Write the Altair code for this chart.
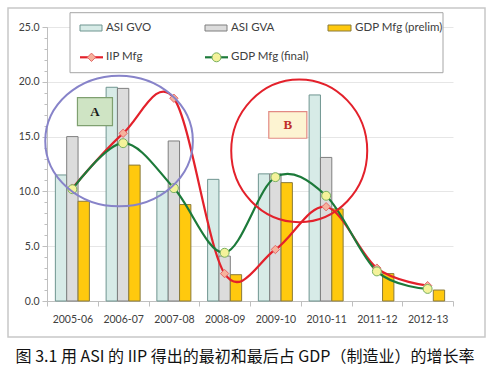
import json
import altair as alt
import pandas as pd

# ---------------- data ----------------
cats = ["2005-06", "2006-07", "2007-08", "2008-09", "2009-10", "2010-11", "2011-12", "2012-13"]
asi_gvo = [11.5, 19.5, 10.0, 11.1, 11.6, 18.8, None, None]
asi_gva = [15.0, 19.4, 14.6, 4.1, 11.6, 13.1, None, None]
gdp_prelim = [9.1, 12.4, 8.8, 2.4, 10.8, 8.4, 2.5, 1.0]
iip_mfg = [10.3, 15.3, 18.5, 2.5, 4.7, 8.6, 3.0, 1.4]
gdp_final = [10.2, 14.4, 10.3, 4.4, 11.3, 9.6, 2.7, 1.1]

legend_labels = ["ASI GVO", "ASI GVA", "GDP Mfg (prelim)", "IIP Mfg", "GDP Mfg (final)"]
caption = "图 3.1 用 ASI 的 IIP 得出的最初和最后占 GDP（制造业）的增长率"

df = pd.DataFrame({
    "idx": list(range(len(cats))),
    "cat": cats,
    "gvo": asi_gvo,
    "gva": asi_gva,
    "prelim": gdp_prelim,
    "iip": iip_mfg,
    "final": gdp_final,
})

# ---------------- styling ----------------
W, H = 406, 274
FONT = "Lato"
TXT = "#404040"
C_GVO_FILL, C_GVO_STROKE = "#d7ebe7", "#6f9590"
C_GVA_FILL, C_GVA_STROKE = "#dcdcdc", "#7f7f7f"
C_PRE_FILL, C_PRE_STROKE = "#ffc90e", "#8a7a3a"
C_IIP, C_IIP_FILL, C_IIP_MSTROKE = "#e3212b", "#f6b29c", "#e56a6a"
C_FIN, C_FIN_FILL, C_FIN_MSTROKE = "#1c7a3a", "#f4f29a", "#78b060"

xs = alt.Scale(domain=[-0.5, len(cats) - 0.5], nice=False, zero=False)
ys = alt.Scale(domain=[0, 25], nice=False, zero=True)

one = pd.DataFrame({"k": [0]})


def bars(field, lo, hi, fill, stroke, axes=False):
    if axes:
        xa = alt.Axis(values=list(range(len(cats))), labelExpr=f"{json.dumps(cats)}[round(datum.value)]",
                      ticks=False, grid=False, domain=True, domainColor="#bfbfbf", labelPadding=13,
                      labelFont=FONT, labelFontSize=10.5, labelColor=TXT, title=None, orient="bottom")
        ya = alt.Axis(values=[0, 5, 10, 15, 20, 25], format=".1f", grid=True, gridColor="#e6e6e6",
                      tickSize=5, tickColor="#bfbfbf", domainColor="#bfbfbf", labelPadding=3,
                      labelFont=FONT, labelFontSize=10.5, labelColor=TXT, title=None, orient="left")
    else:
        xa = None
        ya = None
    return (
        alt.Chart(df)
        .transform_filter(f"isValid(datum.{field})")
        .transform_calculate(x0=f"datum.idx + ({lo})", x1=f"datum.idx + ({hi})", zero="0")
        .mark_rect(fill=fill, stroke=stroke, strokeWidth=1)
        .encode(
            x=alt.X("x0:Q", scale=xs, axis=xa),
            x2="x1:Q",
            y=alt.Y(f"{field}:Q", scale=ys, axis=ya),
            y2="zero:Q",
        )
    )


b_gvo = bars("gvo", -0.335, -0.112, C_GVO_FILL, C_GVO_STROKE, axes=True)
b_gva = bars("gva", -0.112, 0.112, C_GVA_FILL, C_GVA_STROKE)
b_pre = bars("prelim", 0.112, 0.335, C_PRE_FILL, C_PRE_STROKE)

# secondary axes: x boundary ticks and y minor ticks
axis_carrier = (
    alt.Chart(df)
    .transform_calculate(zero="0")
    .mark_point(opacity=0)
    .encode(
        x=alt.X("idx:Q", scale=xs,
                axis=alt.Axis(values=[i - 0.5 for i in range(len(cats) + 1)], labels=False, tickSize=5,
                              tickColor="#bfbfbf", domain=False, grid=False, title=None, orient="bottom")),
        y=alt.Y("zero:Q", scale=ys,
                axis=alt.Axis(values=list(range(0, 26)), labels=False, tickSize=3, tickColor="#bfbfbf",
                              domain=False, grid=False, title=None, orient="left")),
    )
)


def series_line(field, color):
    return (
        alt.Chart(df)
        .mark_line(color=color, strokeWidth=2.2, interpolate="cardinal", tension=0)
        .encode(x=alt.X("idx:Q", scale=xs, axis=None), y=alt.Y(f"{field}:Q", scale=ys, axis=None))
    )


def series_pts(field, shape, size, fill, stroke):
    return (
        alt.Chart(df)
        .mark_point(shape=shape, size=size, filled=True, fill=fill, stroke=stroke, strokeWidth=1, opacity=1)
        .encode(x=alt.X("idx:Q", scale=xs, axis=None), y=alt.Y(f"{field}:Q", scale=ys, axis=None))
    )


l_iip = series_line("iip", C_IIP)
l_fin = series_line("final", C_FIN)
p_iip = series_pts("iip", "diamond", 70, C_IIP_FILL, C_IIP_MSTROKE)
p_fin = series_pts("final", "circle", 80, C_FIN_FILL, C_FIN_MSTROKE)

# ---------------- annotations (data units) ----------------
ell = pd.DataFrame({
    "x": [0.92, 4.47],
    "y": [14.6, 13.7],
    "name": ["A", "B"],
})
ell_a = (
    alt.Chart(ell).transform_filter("datum.name == 'A'")
    .mark_point(shape="M -1 0 A 1 0.885 0 1 1 1 0 A 1 0.885 0 1 1 -1 0 Z", size=21786,
                filled=False, stroke="#8783c9", strokeWidth=2, opacity=1)
    .encode(x=alt.X("x:Q", scale=xs, axis=None), y=alt.Y("y:Q", scale=ys, axis=None))
)
ell_b = (
    alt.Chart(ell).transform_filter("datum.name == 'B'")
    .mark_point(shape="M -1 0 A 1 1.049 0 1 1 1 0 A 1 1.049 0 1 1 -1 0 Z", size=18496,
                filled=False, stroke="#e3212b", strokeWidth=2, opacity=1)
    .encode(x=alt.X("x:Q", scale=xs, axis=None), y=alt.Y("y:Q", scale=ys, axis=None))
)

boxes = pd.DataFrame({
    "x0": [0.10, 3.87], "x1": [0.79, 4.62],
    "y0": [16.0, 14.85], "y1": [18.55, 17.27],
    "fill": ["#cfe4c4", "#fdf4d2"], "stroke": ["#7fa070", "#e28a84"],
    "label": ["A", "B"], "tcolor": ["#1a1a1a", "#c0302a"],
})
box_rects = (
    alt.Chart(boxes).transform_calculate(xm="(datum.x0 + datum.x1) / 2", ym="(datum.y0 + datum.y1) / 2")
    .mark_rect(strokeWidth=1.2)
    .encode(
        x=alt.X("x0:Q", scale=xs, axis=None), x2="x1:Q",
        y=alt.Y("y0:Q", scale=ys, axis=None), y2="y1:Q",
        fill=alt.Fill("fill:N", scale=None), stroke=alt.Stroke("stroke:N", scale=None),
    )
)
box_text = (
    alt.Chart(boxes).transform_calculate(xm="(datum.x0 + datum.x1) / 2", ym="(datum.y0 + datum.y1) / 2")
    .mark_text(font="Liberation Serif", fontWeight="bold", fontSize=13, baseline="middle", align="center")
    .encode(
        x=alt.X("xm:Q", scale=xs, axis=None), y=alt.Y("ym:Q", scale=ys, axis=None),
        text="label:N", color=alt.Color("tcolor:N", scale=None),
    )
)

# ---------------- frame, legend, caption (pixel offsets from plot origin 47,27) ----------------
OX, OY = 47, 27


def prect(x0, y0, x1, y1, **kw):
    return alt.Chart(one).mark_rect(**kw).encode(
        x=alt.value(x0 - OX), x2=alt.value(x1 - OX), y=alt.value(y0 - OY), y2=alt.value(y1 - OY))


def ptext(x, y, s, **kw):
    return alt.Chart(one).mark_text(text=s, **kw).encode(x=alt.value(x - OX), y=alt.value(y - OY))


def ppoint(x, y, **kw):
    return alt.Chart(one).mark_point(**kw).encode(x=alt.value(x - OX), y=alt.value(y - OY))


def prule(x0, x1, y, **kw):
    return alt.Chart(one).mark_rule(**kw).encode(x=alt.value(x0 - OX), x2=alt.value(x1 - OX), y=alt.value(y - OY))


frame = prect(8, 8, 485, 337, fill="white", fillOpacity=0, stroke="#c8c8c8", strokeWidth=1.5)
leg_box = prect(70, 12.7, 443, 72.7, fill="white", stroke="#a6a6a6", strokeWidth=1)

LF = dict(font=FONT, fontSize=11.5, color=TXT, align="left", baseline="middle")
r1, r2 = 28, 57.3
legend_layers = [
    leg_box,
    prect(80, 25, 102, 31, fill=C_GVO_FILL, stroke=C_GVO_STROKE, strokeWidth=1),
    ptext(106, r1, legend_labels[0], **LF),
    prect(205, 25, 227, 31, fill=C_GVA_FILL, stroke=C_GVA_STROKE, strokeWidth=1),
    ptext(231, r1, legend_labels[1], **LF),
    prect(328, 25, 351, 31, fill=C_PRE_FILL, stroke=C_PRE_STROKE, strokeWidth=1),
    ptext(355, r1, legend_labels[2], **LF),
    prule(80, 103, r2, color=C_IIP, strokeWidth=2.2),
    ppoint(91.5, r2, shape="diamond", size=70, filled=True, fill=C_IIP_FILL, stroke=C_IIP_MSTROKE,
           strokeWidth=1, opacity=1),
    ptext(106, r2, legend_labels[3], **LF),
    prule(205, 228, r2, color=C_FIN, strokeWidth=2.2),
    ppoint(216.5, r2, shape="circle", size=80, filled=True, fill=C_FIN_FILL, stroke=C_FIN_MSTROKE,
           strokeWidth=1, opacity=1),
    ptext(231, r2, legend_labels[4], **LF),
]

cap = ptext(245, 357, caption, font="Noto Sans CJK SC", fontSize=16, color="#111111",
            align="center", baseline="middle")

chart = (
    alt.layer(
        frame, axis_carrier, b_gvo, b_gva, b_pre,
        l_iip, l_fin, p_iip, p_fin,
        ell_a, ell_b, box_rects, box_text,
        *legend_layers, cap,
    )
    .resolve_axis(x="independent", y="independent")
    .properties(
        width=W, height=H,
        autosize=alt.AutoSizeParams(type="none"),
        padding={"left": OX, "top": OY, "right": 494 - OX - W, "bottom": 376 - OY - H},
        background="white",
    )
    .configure_view(strokeWidth=0)
)

chart.save("out.html", embed_options={"renderer": "svg", "actions": False})
